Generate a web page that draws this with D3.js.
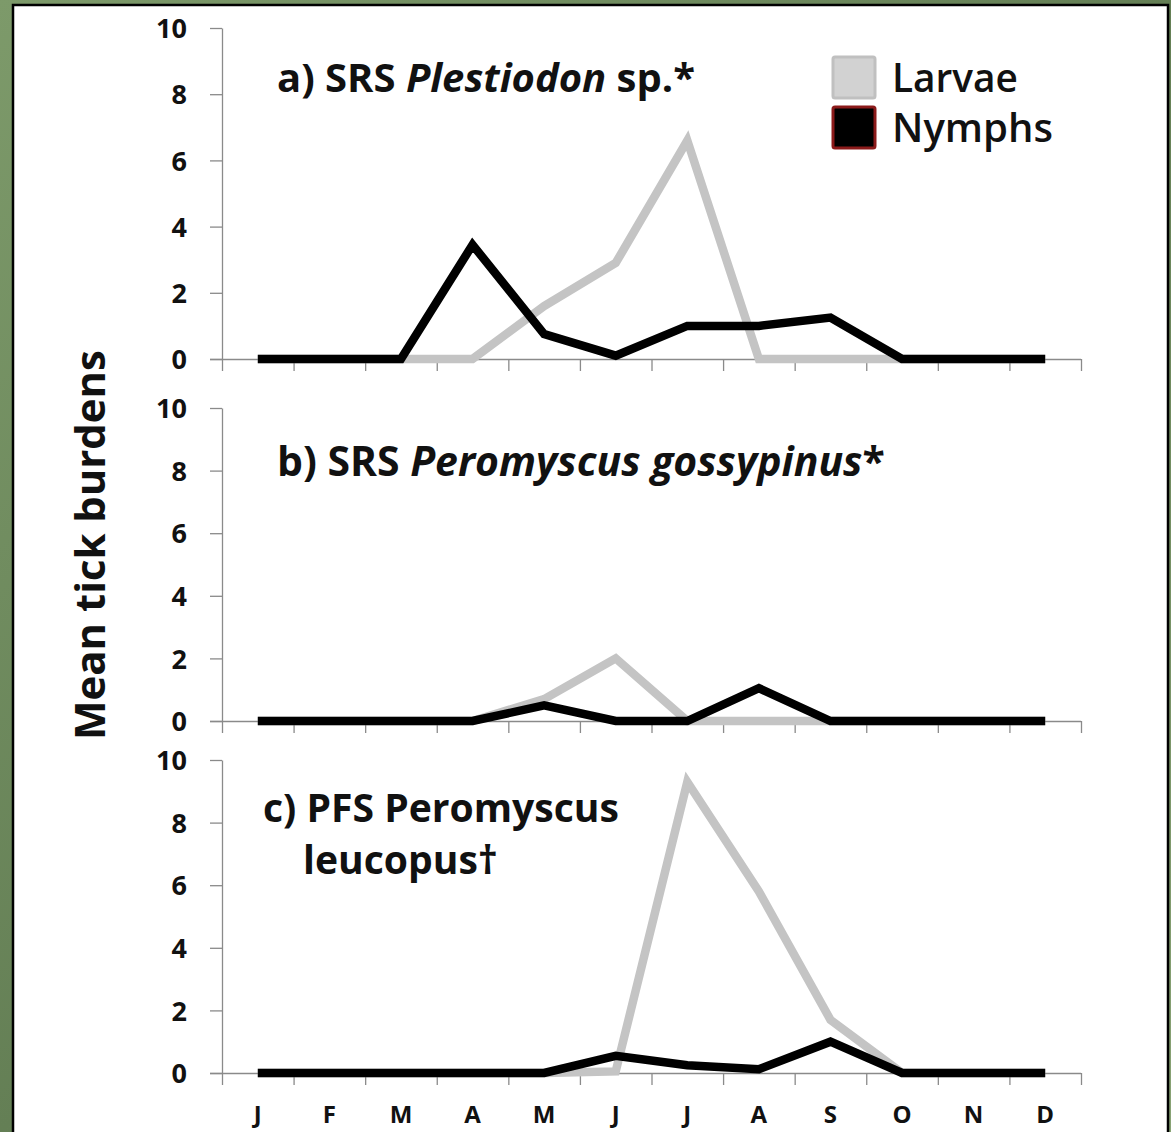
<!DOCTYPE html>
<html><head><meta charset="utf-8">
<script src="https://cdn.jsdelivr.net/npm/d3@7"></script>
<style>
html,body{margin:0;padding:0;background:#6f8c5e;}
svg{display:block;}
text{font-family:"Open Sans",Lato,sans-serif;}
</style></head>
<body>
<svg id="chart" width="1171" height="1132"></svg>
<script>
const months = ["J","F","M","A","M","J","J","A","S","O","N","D"];
const yTicks = [0,2,4,6,8,10];
const seriesNames = ["Larvae","Nymphs"];
const larvaeA = [0,0,0,0,1.6,2.9,6.6,0,0,0,0,0];
const nymphsA = [0,0,0,3.45,0.75,0.1,1.0,1.0,1.25,0,0,0];
const larvaeB = [0,0,0,0,0.7,2.0,0,0,0,0,0,0];
const nymphsB = [0,0,0,0,0.5,0,0,1.05,0,0,0,0];
const larvaeC = [0,0,0,0,0,0.05,9.3,5.8,1.7,0,0,0];
const nymphsC = [0,0,0,0,0,0.55,0.25,0.12,1.0,0,0,0];

const svg = d3.select("#chart");
const defs = svg.append("defs");
const grad = defs.append("linearGradient").attr("id","bg").attr("x1","0").attr("y1","0").attr("x2","1").attr("y2","1");
grad.append("stop").attr("offset","0").attr("stop-color","#7d9a6a");
grad.append("stop").attr("offset","0.5").attr("stop-color","#647f55");
grad.append("stop").attr("offset","1").attr("stop-color","#89a375");
svg.append("rect").attr("width",1171).attr("height",1132).attr("fill","url(#bg)");
svg.append("rect").attr("x",13).attr("y",5).attr("width",1155).attr("height",1140)
  .attr("fill","#fff").attr("stroke","#000").attr("stroke-width",2.5);

function fit(sel, target){
  const node = sel.node();
  const fs = parseFloat(sel.attr("font-size"));
  const w = node.getComputedTextLength();
  if (w > 0) sel.attr("font-size", (fs*target/w).toFixed(2));
  return sel;
}

const x0 = 222, x1 = 1081;
const xPt = d3.scalePoint().domain(d3.range(12)).range([x0,x1]).padding(0.5);
const xLin = d3.scaleLinear().domain([0,12]).range([x0,x1]);

const panels = [
  {top:28, zero:359, larvae:larvaeA, nymphs:nymphsA},
  {top:408, zero:721, larvae:larvaeB, nymphs:nymphsB},
  {top:760, zero:1073, larvae:larvaeC, nymphs:nymphsC}
];

panels.forEach((p,i)=>{
  const y = d3.scaleLinear().domain([0,10]).range([p.zero,p.top]);
  const g = svg.append("g");
  const ya = g.append("g").attr("transform",`translate(${x0},0)`)
    .call(d3.axisLeft(y).tickValues(yTicks).tickSizeInner(12).tickSizeOuter(0).tickPadding(23).tickFormat(d3.format("d")));
  ya.selectAll("path,line").attr("stroke","#8a8a8a").attr("stroke-width",1.3);
  ya.selectAll("text").attr("font-size",27).attr("font-weight",700).attr("fill","#111")
    .attr("font-family","'Open Sans',Lato,sans-serif").attr("dy","0.36em");
  const xa = g.append("g").attr("transform",`translate(0,${p.zero})`)
    .call(d3.axisBottom(xLin).tickValues(d3.range(13)).tickSizeInner(12).tickSizeOuter(0).tickFormat(""));
  xa.selectAll("path,line").attr("stroke","#8a8a8a").attr("stroke-width",1.3);
  xa.select("path.domain").attr("d",`M${x0-12},0.5H${x1}`);
  const line = d3.line().x((d,j)=>xPt(j)).y(d=>y(d));
  g.append("path").datum(p.larvae).attr("d",line).attr("fill","none")
    .attr("stroke","#c4c4c4").attr("stroke-width",8.5).attr("stroke-linejoin","miter");
  g.append("path").datum(p.nymphs).attr("d",line).attr("fill","none")
    .attr("stroke","#000").attr("stroke-width",8.5).attr("stroke-linejoin","miter");
  if(i===2){
    g.selectAll("text.month").data(months).join("text").attr("class","month")
      .attr("x",(d,j)=>xPt(j)).attr("y",1123).attr("text-anchor","middle")
      .attr("font-size",24).attr("font-weight",700).attr("fill","#111").text(d=>d);
  }
});

const tA = svg.append("text").attr("x",277).attr("y",92).attr("font-size",32).attr("font-weight",700).attr("fill","#111");
tA.append("tspan").text("a) SRS ");
tA.append("tspan").attr("font-style","italic").text("Plestiodon");
tA.append("tspan").text(" sp.*");
fit(tA, 418);
const tB = svg.append("text").attr("x",277).attr("y",476).attr("font-size",32).attr("font-weight",700).attr("fill","#111");
tB.append("tspan").text("b) SRS ");
tB.append("tspan").attr("font-style","italic").text("Peromyscus gossypinus");
tB.append("tspan").text("*");
fit(tB, 608);
const tC1 = svg.append("text").attr("x",263).attr("y",822).attr("font-size",32).attr("font-weight",700).attr("fill","#111").text("c) PFS Peromyscus");
fit(tC1, 356);
svg.append("text").attr("x",303).attr("y",874).attr("font-size",tC1.attr("font-size")).attr("font-weight",700).attr("fill","#111").text("leucopus†");

const yl = svg.append("text").attr("transform","translate(105,545) rotate(-90)").attr("text-anchor","middle")
  .attr("font-size",40).attr("font-weight",700).attr("fill","#111").text("Mean tick burdens");
fit(yl, 390);

const legFill = ["#d2d2d2","#000"];
const legStroke = ["#c0c0c0","#8b1a1a"];
seriesNames.forEach((n,k)=>{
  const yy = 57 + k*50;
  svg.append("rect").attr("x",833).attr("y",yy).attr("width",42).attr("height",41)
    .attr("fill",legFill[k]).attr("stroke",legStroke[k]).attr("stroke-width",3).attr("rx",2);
  const t = svg.append("text").attr("x",892).attr("y",yy+35).attr("font-size",34).attr("font-weight",600).attr("fill","#111").text(n);
  if(k===1) fit(t,161); else fit(t,126);
});
</script>
</body></html>
